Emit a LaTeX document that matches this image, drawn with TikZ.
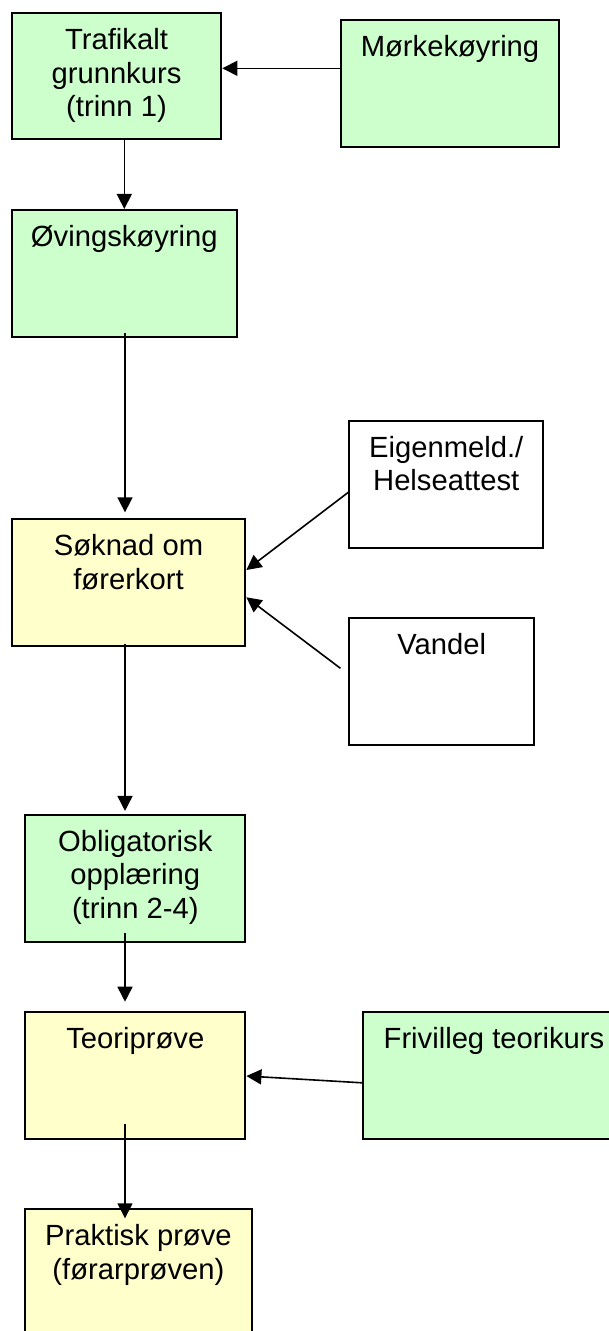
\documentclass[tikz,border=0pt]{standalone}
\usepackage{fontspec}
\setmainfont{Liberation Sans}
\usetikzlibrary{arrows.meta,calc}
\definecolor{boxgreen}{HTML}{CCFFCC}
\definecolor{boxyellow}{HTML}{FFFFCC}
\begin{document}
\begin{tikzpicture}[x=1pt,y=-1pt,
  box/.style={draw=black, line width=2pt, rectangle, inner sep=0pt},
  gbox/.style={box, fill=boxgreen},
  ybox/.style={box, fill=boxyellow},
  wbox/.style={box, fill=white},
  lbl/.style={font=\fontsize{29.2}{33.5}\selectfont, align=center, inner sep=0pt, anchor=base},
  arr/.style={line width=1.6pt, -{Triangle[length=15pt,width=15pt]}},
]
\useasboundingbox (0,0) rectangle (609,1331);
\clip (0,0) rectangle (609,1331);
% boxes
\node[gbox, minimum width=209.7pt, minimum height=126pt] (traf) at (116.5,76.3) {};
\node[gbox, minimum width=218pt, minimum height=126.7pt] (mork) at (450,83.3) {};
\node[gbox, minimum width=225.3pt, minimum height=126.7pt] (oving) at (124.3,273.3) {};
\node[wbox, minimum width=193.5pt, minimum height=127pt] (eigen) at (446.2,484.2) {};
\node[ybox, minimum width=233.7pt, minimum height=126.7pt] (soknad) at (128.5,582.7) {};
\node[wbox, minimum width=184.5pt, minimum height=127.3pt] (vandel) at (441.7,681.3) {};
\node[gbox, minimum width=220.2pt, minimum height=126.7pt] (oblig) at (135.3,878.3) {};
\node[ybox, minimum width=220.2pt, minimum height=127.6pt] (teori) at (135.3,1075.5) {};
\node[gbox, minimum width=262pt, minimum height=127pt] (friv) at (494,1075.8) {};
\node[ybox, minimum width=226.4pt, minimum height=127pt] (prakt) at (138.4,1272.8) {};
% texts (base anchor = baseline of the last line)
\node[lbl] (trafT) at ($(traf.north)+(0,104.5)$) {Trafikalt\\grunnkurs\\(trinn 1)};
\node[lbl] (morkT) at ($(mork.north)+(0,37.5)$) {Mørkekøyring};
\node[lbl] (ovingT) at ($(oving.north)+(0,37.5)$) {Øvingskøyring};
\node[lbl] (eigenT) at ($(eigen.north)+(0,71)$) {Eigenmeld./\\Helseattest};
\node[lbl] (soknadT) at ($(soknad.north)+(0,71)$) {Søknad om\\førerkort};
\node[lbl] (vandelT) at ($(vandel.north)+(0,37.5)$) {Vandel};
\node[lbl] (obligT) at ($(oblig.north)+(0,104.5)$) {Obligatorisk\\opplæring\\(trinn 2-4)};
\node[lbl] (teoriT) at ($(teori.north)+(0,37.5)$) {Teoriprøve};
\node[lbl] (frivT) at ($(friv.north)+(0,37.5)$) {Frivilleg teorikurs};
\node[lbl] (praktT) at ($(prakt.north)+(0,71)$) {Praktisk prøve\\(førarprøven)};
% connectors
\draw[arr] ($(mork.west)+(0,-15)$) coordinate (m1) -- (m1 -| traf.east);
\draw[arr] (traf.south -| oving.north) -- (oving.north);
\draw[arr] ($(oving.south)+(0.7,-5)$) coordinate (o1) -- ($(o1 |- soknad.north)+(0,-6)$);
\draw[arr] ($(eigen.west)+(0,8)$) -- ($(soknad.east)+(0,-12.7)$);
\draw[arr] ($(vandel.west)+(-8,-13)$) -- ($(soknad.east)+(0,14.6)$);
\draw[arr] ($(soknad.south)+(-3.5,-3)$) coordinate (s1) -- ($(s1 |- oblig.north)+(0,-3)$);
\draw[arr] ($(oblig.south)+(-10.3,-10)$) coordinate (b1) -- ($(b1 |- teori.north)+(0,-9)$);
\draw[arr] ($(friv.west)+(0,7)$) -- ($(teori.east)+(0,0.5)$);
\draw[arr] ($(teori.south)+(-10.3,-16)$) coordinate (t1) -- ($(t1 |- prakt.north)+(0,10)$);
\end{tikzpicture}
\end{document}
